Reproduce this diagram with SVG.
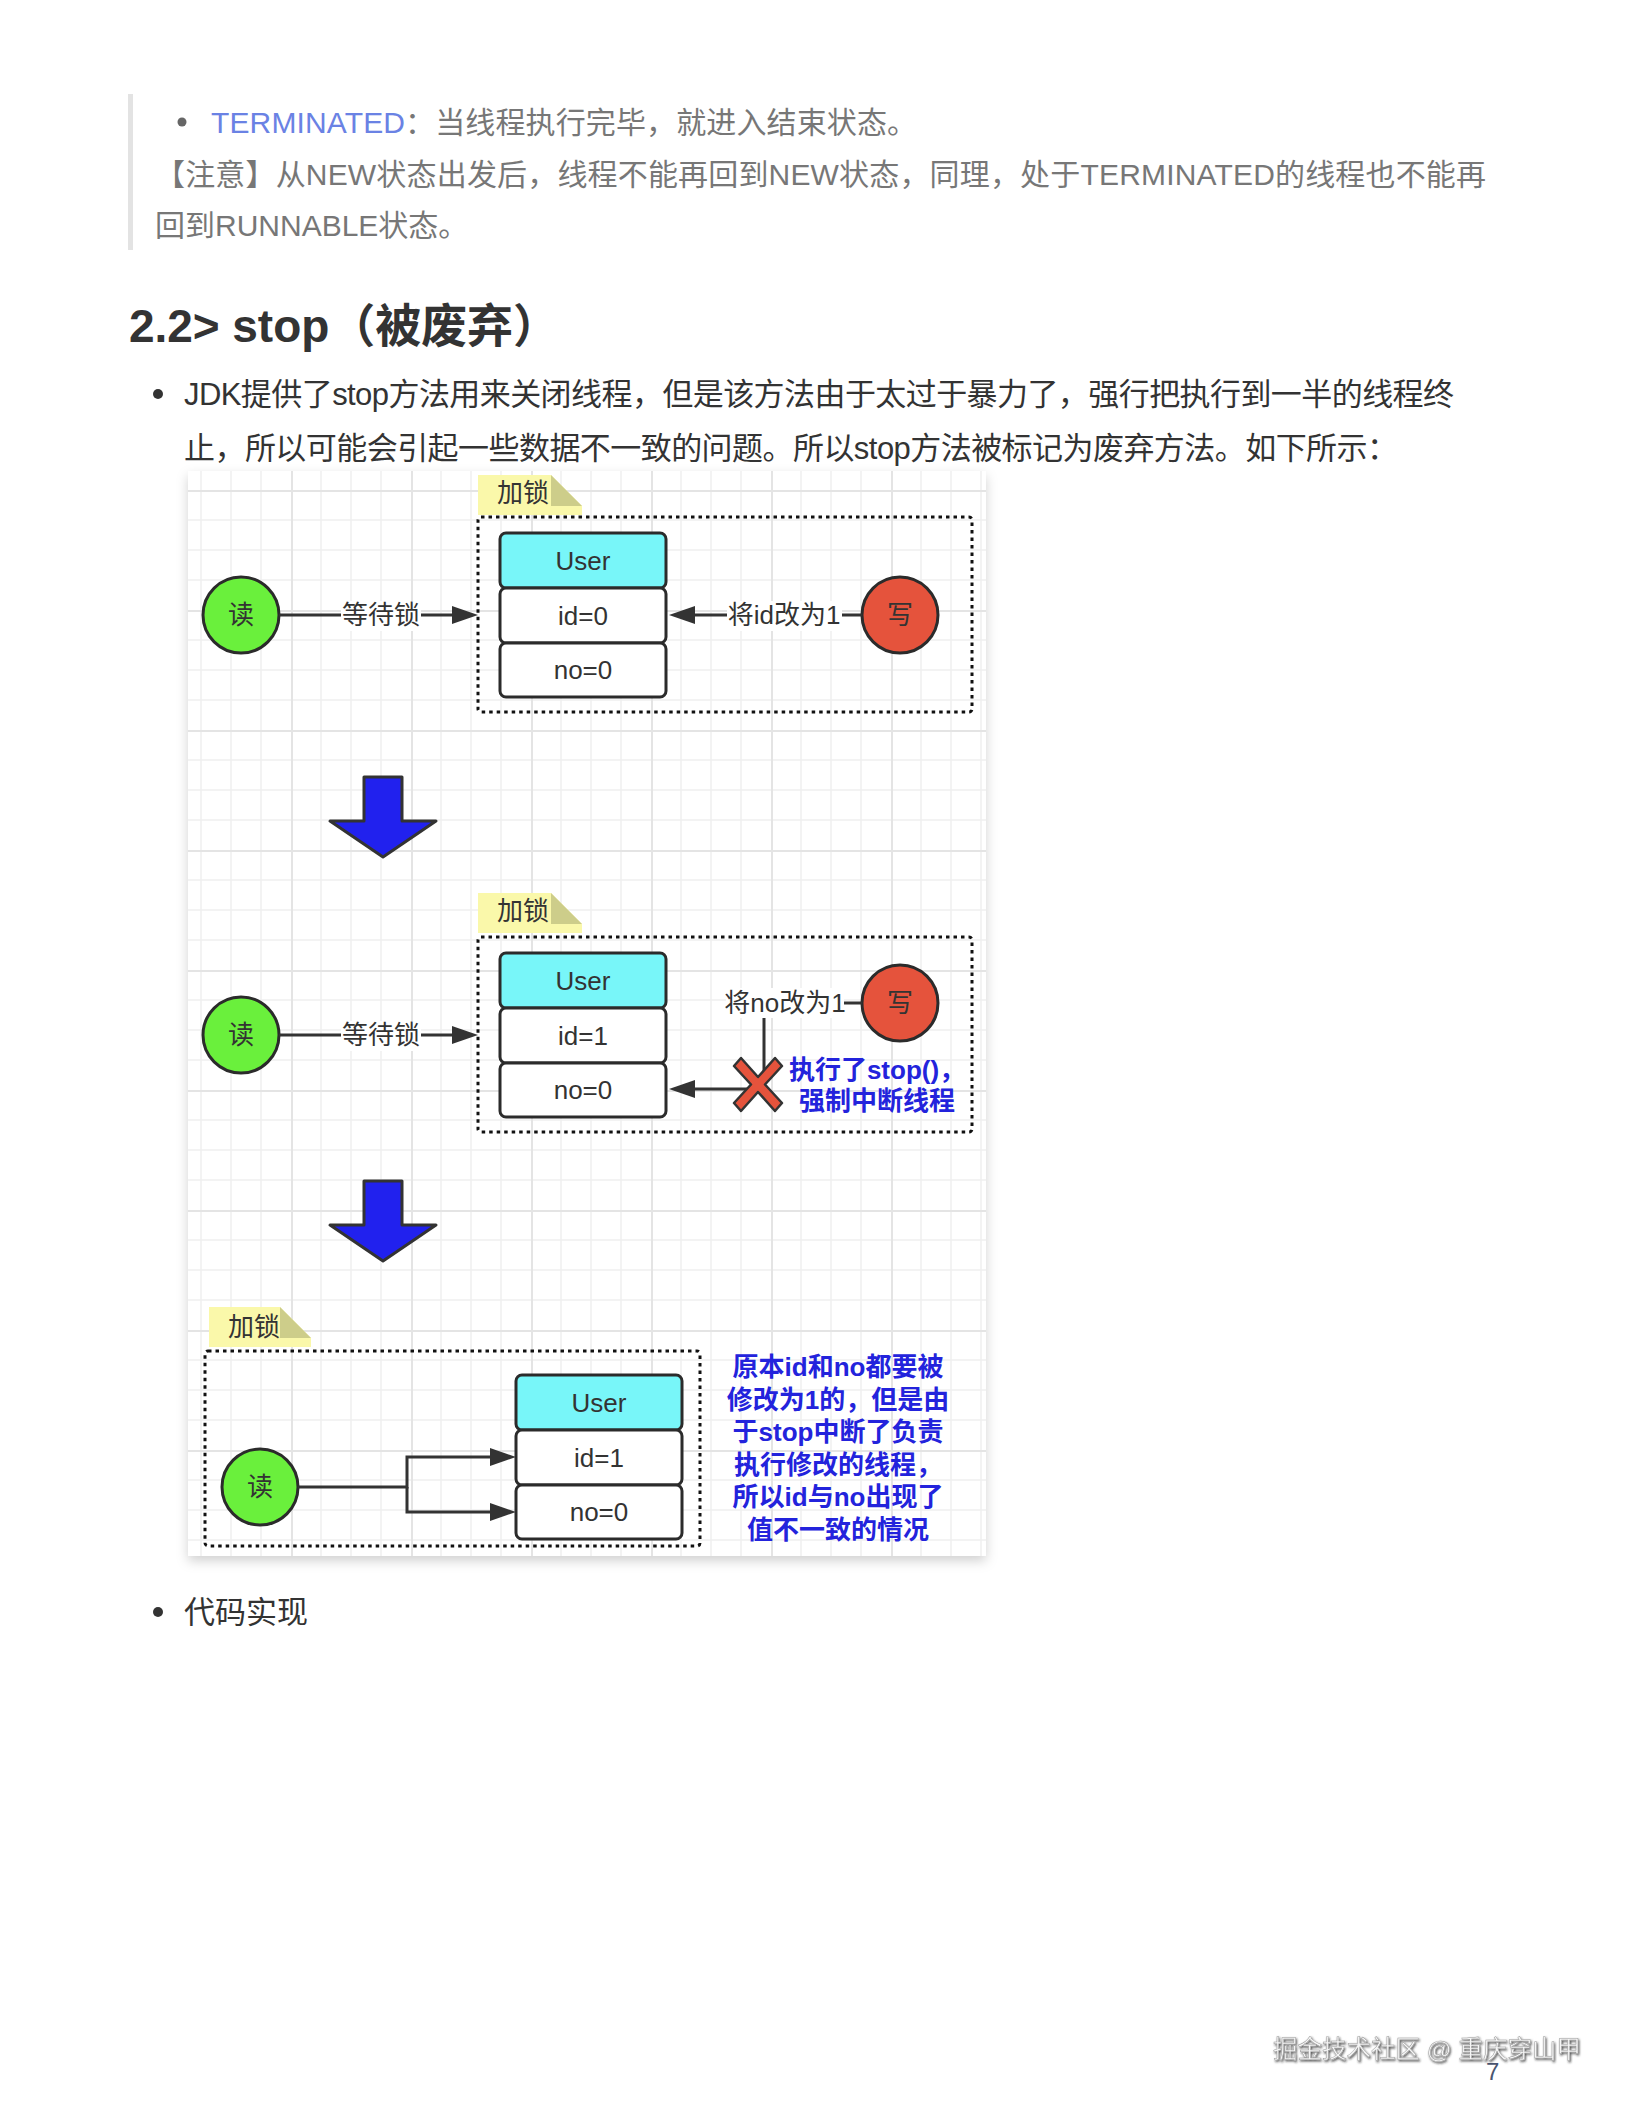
<svg xmlns="http://www.w3.org/2000/svg" width="1632" height="2112" viewBox="0 0 1632 2112">
<defs>
<style>
text{font-family:"Liberation Sans","Noto Sans CJK SC",sans-serif}
.bq{font-size:30px;fill:#777}
.tm{fill:#6a82e4}
.body{font-size:31px;fill:#333}
.h{font-size:46px;font-weight:bold;fill:#333}
.lbl{font-size:26px;fill:#333;text-anchor:middle}
.blue{font-size:26px;font-weight:bold;fill:#2323dc;text-anchor:middle}
.row{fill:#fff;stroke:#2b2b2b;stroke-width:3}
.hdr{fill:#78f6f9;stroke:#2b2b2b;stroke-width:3}
.dot{fill:none;stroke:#111;stroke-width:3;stroke-dasharray:3.5 4}
.edge{fill:none;stroke:#333;stroke-width:3}
.lb{fill:#fff}
.read{fill:#6af03c;stroke:#2b2b2b;stroke-width:3}
.write{fill:#e5533c;stroke:#2b2b2b;stroke-width:3}
.note{fill:#faf8aa}
.fold{fill:#cdcd8a}
.big{fill:#2121ee;stroke:#333;stroke-width:3;stroke-linejoin:round}
.xm{fill:#e5533c;stroke:#333;stroke-width:2.5;stroke-linejoin:round}
</style>
<pattern id="grid" patternUnits="userSpaceOnUse" x="291" y="490" width="120" height="120">
<rect width="120" height="120" fill="#fff"/>
<path d="M30,0V120M60,0V120M90,0V120M0,30H120M0,60H120M0,90H120" stroke="#f0f0f0" stroke-width="1.5"/>
<path d="M1,0V120M0,1H120" stroke="#e4e4e4" stroke-width="2"/>
</pattern>
<marker id="ah" markerUnits="userSpaceOnUse" viewBox="0 0 26 18" refX="6" refY="9" markerWidth="26" markerHeight="18" orient="auto">
<path d="M0,0 L26,9 L0,18 Z" fill="#333"/>
</marker>
<filter id="sh" x="-5%" y="-5%" width="110%" height="110%">
<feDropShadow dx="0" dy="5" stdDeviation="6" flood-color="#000" flood-opacity="0.18"/>
</filter>
<filter id="wm" x="-5%" y="-20%" width="110%" height="140%">
<feDropShadow dx="1" dy="1.5" stdDeviation="0.8" flood-color="#222" flood-opacity="0.8"/>
</filter>
</defs>

<rect width="1632" height="2112" fill="#fff"/>

<!-- blockquote -->
<rect x="128" y="94" width="5" height="156" fill="#e3e3e3"/>
<circle cx="182" cy="122" r="4.5" fill="#666"/>
<text class="bq" x="211" y="133" textLength="706" lengthAdjust="spacing"><tspan class="tm">TERMINATED</tspan>：当线程执行完毕，就进入结束状态。</text>
<text class="bq" x="155" y="185" textLength="1331" lengthAdjust="spacing">【注意】从NEW状态出发后，线程不能再回到NEW状态，同理，处于TERMINATED的线程也不能再</text>
<text class="bq" x="155" y="236">回到RUNNABLE状态。</text>

<!-- heading -->
<text class="h" x="129" y="342" textLength="430" lengthAdjust="spacing">2.2&gt; stop（被废弃）</text>

<!-- bullet text -->
<circle cx="158" cy="394" r="5" fill="#333"/>
<text class="body" x="184" y="405" textLength="1270" lengthAdjust="spacing">JDK提供了stop方法用来关闭线程，但是该方法由于太过于暴力了，强行把执行到一半的线程终</text>
<text class="body" x="184" y="459" textLength="1214" lengthAdjust="spacing">止，所以可能会引起一些数据不一致的问题。所以stop方法被标记为废弃方法。如下所示：</text>

<!-- diagram panel -->
<rect x="188" y="471" width="798" height="1085" fill="url(#grid)" filter="url(#sh)"/>

<!-- Section 1 -->
<g id="note1">
<polygon class="note" points="478,475 551,475 582,506 582,515 478,515"/>
<polygon class="fold" points="551,475 551,506 582,506"/>
<text class="lbl" x="523" y="502">加锁</text>
</g>
<g id="lock1"><rect class="dot" x="478" y="517" width="494" height="195" rx="3"/></g>
<g id="user1">
<rect class="hdr" x="500" y="533" width="166" height="55" rx="6"/>
<text class="lbl" x="583" y="570">User</text>
<rect class="row" x="500" y="588" width="166" height="55" rx="6"/>
<text class="lbl" x="583" y="625">id=0</text>
<rect class="row" x="500" y="643" width="166" height="54" rx="6"/>
<text class="lbl" x="583" y="679">no=0</text>
</g>
<g id="read1"><circle class="read" cx="241" cy="615" r="38"/><text class="lbl" x="241" y="624">读</text></g>
<g id="write1"><circle class="write" cx="900" cy="615" r="38"/><text class="lbl" x="900" y="624">写</text></g>

<!-- Section 2 -->
<g id="note2">
<polygon class="note" points="478,893 551,893 582,924 582,933 478,933"/>
<polygon class="fold" points="551,893 551,924 582,924"/>
<text class="lbl" x="523" y="920">加锁</text>
</g>
<g id="lock2"><rect class="dot" x="478" y="937" width="494" height="195" rx="3"/></g>
<g id="user2">
<rect class="hdr" x="500" y="953" width="166" height="55" rx="6"/>
<text class="lbl" x="583" y="990">User</text>
<rect class="row" x="500" y="1008" width="166" height="55" rx="6"/>
<text class="lbl" x="583" y="1045">id=1</text>
<rect class="row" x="500" y="1063" width="166" height="54" rx="6"/>
<text class="lbl" x="583" y="1099">no=0</text>
</g>
<g id="read2"><circle class="read" cx="241" cy="1035" r="38"/><text class="lbl" x="241" y="1044">读</text></g>
<g id="write2"><circle class="write" cx="900" cy="1003" r="38"/><text class="lbl" x="900" y="1012">写</text></g>

<!-- Section 3 -->
<g id="note3">
<polygon class="note" points="209,1307 280,1307 311,1338 311,1347 209,1347"/>
<polygon class="fold" points="280,1307 280,1338 311,1338"/>
<text class="lbl" x="254" y="1336">加锁</text>
</g>
<g id="lock3"><rect class="dot" x="205" y="1351" width="495" height="195" rx="3"/></g>
<g id="user3">
<rect class="hdr" x="516" y="1375" width="166" height="55" rx="6"/>
<text class="lbl" x="599" y="1412">User</text>
<rect class="row" x="516" y="1430" width="166" height="55" rx="6"/>
<text class="lbl" x="599" y="1467">id=1</text>
<rect class="row" x="516" y="1485" width="166" height="54" rx="6"/>
<text class="lbl" x="599" y="1521">no=0</text>
</g>
<g id="read3"><circle class="read" cx="260" cy="1487" r="38"/><text class="lbl" x="260" y="1496">读</text></g>

<!-- connectors -->
<g id="connectors">
<path class="edge" d="M279,615H458" marker-end="url(#ah)"/>
<rect class="lb" x="341" y="601" width="80" height="30"/>
<text class="lbl" x="381" y="624">等待锁</text>
<path class="edge" d="M862,615H689" marker-end="url(#ah)"/>
<rect class="lb" x="727" y="601" width="115" height="30"/>
<text class="lbl" x="784" y="624">将id改为1</text>

<path class="edge" d="M279,1035H458" marker-end="url(#ah)"/>
<rect class="lb" x="341" y="1021" width="80" height="30"/>
<text class="lbl" x="381" y="1044">等待锁</text>
<path class="edge" d="M862,1003H764V1089H689" marker-end="url(#ah)"/>
<rect class="lb" x="726" y="988" width="118" height="30"/>
<text class="lbl" x="785" y="1012">将no改为1</text>

<path class="edge" d="M298,1487H407V1457H496" marker-end="url(#ah)"/>
<path class="edge" d="M407,1487V1512H496" marker-end="url(#ah)"/>
</g>

<g id="stop-mark">
<polygon class="xm" points="734,1066 741,1058 758,1077 775,1058 782,1066 765,1084.5 782,1103 775,1111 758,1092 741,1111 734,1103 751,1084.5"/>
</g>
<g id="stop-text">
<text class="blue" x="877" y="1079">执行了stop()，</text>
<text class="blue" x="877" y="1110">强制中断线程</text>
</g>

<g id="arrow1"><polygon class="big" points="364,777 402,777 402,821 436,821 383,857 330,821 364,821"/></g>
<g id="arrow2"><polygon class="big" points="364,1181 402,1181 402,1225 436,1225 383,1261 330,1225 364,1225"/></g>

<g id="note-text">
<text class="blue" x="838" y="1376">原本id和no都要被</text>
<text class="blue" x="838" y="1409">修改为1的，但是由</text>
<text class="blue" x="838" y="1441">于stop中断了负责</text>
<text class="blue" x="838" y="1474">执行修改的线程，</text>
<text class="blue" x="838" y="1506">所以id与no出现了</text>
<text class="blue" x="838" y="1539">值不一致的情况</text>
</g>

<!-- bottom bullet -->
<circle cx="158" cy="1612" r="5" fill="#333"/>
<text class="body" x="184" y="1623">代码实现</text>

<!-- footer -->
<text x="1486" y="2080" style="font-size:24px;fill:#4a5570">7</text>
<text x="1273" y="2058" filter="url(#wm)" style="font-size:24.5px;fill:#f6f6f6;stroke:#9a9a9a;stroke-width:0.5">掘金技术社区 @ 重庆穿山甲</text>
</svg>
